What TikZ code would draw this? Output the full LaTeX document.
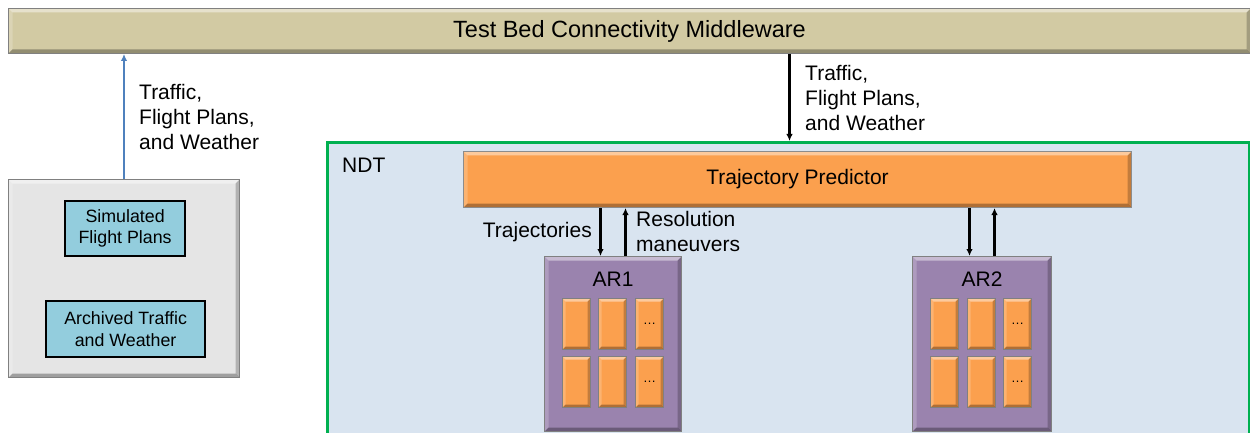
\documentclass[tikz,border=0pt]{standalone}
\usepackage{fontspec}
\setmainfont{Liberation Sans}
\usetikzlibrary{arrows.meta,calc}
\definecolor{mwfill}{HTML}{D2CAA3}
\definecolor{tpfill}{HTML}{FBA04E}
\definecolor{arfill}{HTML}{9A83AE}
\definecolor{ndtfill}{HTML}{D9E4F0}
\definecolor{ndtgreen}{HTML}{00B050}
\definecolor{srcfill}{HTML}{E5E5E5}
\definecolor{dbfill}{HTML}{93CDDD}
\definecolor{bluearrow}{HTML}{4F81BD}
\tikzset{
  bev/.style={path picture={
    \path (path picture bounding box.north west) coordinate (pNW)
          (path picture bounding box.north east) coordinate (pNE)
          (path picture bounding box.south west) coordinate (pSW)
          (path picture bounding box.south east) coordinate (pSE);
    \fill[white,opacity=.45] (pNW) -- (pNE) -- ([xshift=-#1,yshift=-#1]pNE) -- ([xshift=#1,yshift=-#1]pNW) -- cycle;
    \fill[white,opacity=.2] (pNW) -- ([xshift=#1,yshift=-#1]pNW) -- ([xshift=#1,yshift=#1]pSW) -- (pSW) -- cycle;
    \fill[black,opacity=.3] (pSW) -- (pSE) -- ([xshift=-#1,yshift=#1]pSE) -- ([xshift=#1,yshift=#1]pSW) -- cycle;
    \fill[black,opacity=.22] (pNE) -- (pSE) -- ([xshift=-#1,yshift=#1]pSE) -- ([xshift=-#1,yshift=-#1]pNE) -- cycle;
  }},
  bev/.default=4pt,
  box/.style={rectangle,anchor=north west,inner sep=0pt,draw=black!45,line width=1pt},
  cell/.style={box,fill=tpfill,bev=3pt,minimum width=28pt,minimum height=51pt,
    draw=black!50,font=\fontsize{13}{14}\selectfont},
  db/.style={box,fill=dbfill,draw=black,line width=2.2pt,align=center,
    font=\fontsize{17.8}{21.5}\selectfont},
  lbl/.style={align=left,inner sep=0pt,font=\fontsize{21}{25}\selectfont},
  arr/.style={line width=2.2pt,-{Latex[length=7pt,width=6.5pt]}},
}
\begin{document}
\begin{tikzpicture}[x=1pt,y=-1pt]
\useasboundingbox[fill=white] (0,0) rectangle (1250,433);
% middleware
\node[box,fill=mwfill,bev,minimum width=1242pt,minimum height=45pt,draw=black!50,
  font=\fontsize{23.5}{26}\selectfont] (mw) at (8,8) {Test Bed Connectivity Middleware};
% source box
\node[box,fill=srcfill,bev,minimum width=231pt,minimum height=198pt,draw=black!50] (src) at (8,179) {};
\node[db,minimum width=120pt,minimum height=55pt] (sim) at (64,200) {Simulated\\Flight Plans};
\node[db,minimum width=159pt,minimum height=56pt] (arc) at (45,300) {Archived Traffic\\and Weather};
\draw[line width=2pt,bluearrow,-{Latex[length=7pt,width=6.5pt]}] (src.north) -- (src.north |- mw.south);
\node[lbl,anchor=west] (lab1) at (139,117) {Traffic,\\Flight Plans,\\and Weather};
% NDT
\node[box,fill=ndtfill,draw=ndtgreen,line width=3pt,minimum width=922pt,minimum height=310pt] (ndt) at (326,141) {};
\node[lbl,anchor=north west] (ndtl) at (342,158) {NDT};
% trajectory predictor
\node[box,fill=tpfill,bev,minimum width=668pt,minimum height=56pt,draw=black!45,
  font=\fontsize{21}{25}\selectfont] (tp) at (463,151) {Trajectory Predictor};
\draw[arr] ([xshift=-8pt]tp.north |- mw.south) -- ([xshift=-8pt]tp.north |- ndt.north);
\node[lbl,anchor=west] (lab2) at (805,98) {Traffic,\\Flight Plans,\\and Weather};
% AR1
\node[box,fill=arfill,bev,minimum width=137pt,minimum height=175pt,draw=black!50] (ar1) at (544,256) {};
\node[lbl,anchor=north] (ar1l) at ([yshift=-16pt]ar1.north) {AR1};
\node[cell] (a11) at (562,298) {};
\node[cell] (a12) at (598,298) {};
\node[cell] (a13) at (635,298) {\dots};
\node[cell] (a21) at (562,356) {};
\node[cell] (a22) at (598,356) {};
\node[cell] (a23) at (635,356) {\dots};
\draw[arr] ([xshift=-12.5pt]ar1.north |- tp.south) -- ([xshift=-12.5pt]ar1.north);
\draw[arr] ([xshift=12.5pt]ar1.north) -- ([xshift=12.5pt]ar1.north |- tp.south);
\node[lbl,anchor=east] (trj) at (592,232) {Trajectories};
\node[lbl,anchor=west] (res) at (636,231) {Resolution\\maneuvers};
% AR2
\node[box,fill=arfill,bev,minimum width=139pt,minimum height=175pt,draw=black!50] (ar2) at (912,256) {};
\node[lbl,anchor=north] (ar2l) at ([yshift=-16pt]ar2.north) {AR2};
\node[cell] (b11) at (930,298) {};
\node[cell] (b12) at (967,298) {};
\node[cell] (b13) at (1003,298) {\dots};
\node[cell] (b21) at (930,356) {};
\node[cell] (b22) at (967,356) {};
\node[cell] (b23) at (1003,356) {\dots};
\draw[arr] ([xshift=-12.5pt]ar2.north |- tp.south) -- ([xshift=-12.5pt]ar2.north);
\draw[arr] ([xshift=12.5pt]ar2.north) -- ([xshift=12.5pt]ar2.north |- tp.south);
\end{tikzpicture}
\end{document}
